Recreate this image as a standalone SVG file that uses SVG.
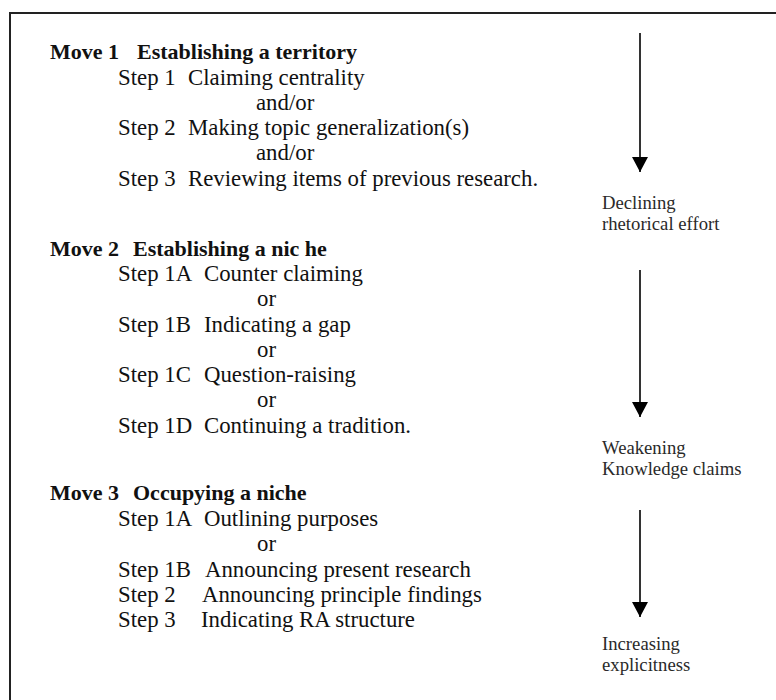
<svg xmlns="http://www.w3.org/2000/svg" width="776" height="700" viewBox="0 0 776 700">
<style>
  .mv { font-family: "Liberation Serif", "Times New Roman", serif; font-size: 22px; font-weight: bold; fill: #111; }
  .st { font-family: "Liberation Serif", "Times New Roman", serif; font-size: 22.8px; fill: #111; }
  .sd { font-family: "Liberation Serif", "Times New Roman", serif; font-size: 18.7px; fill: #2a2a2a; }
  .ar { stroke: #333; stroke-width: 2; fill: none; }
  .frame { stroke: #222; stroke-width: 2; fill: none; }
</style>
<defs>
  <marker id="head" markerUnits="userSpaceOnUse" markerWidth="15" markerHeight="16" refX="15" refY="8" orient="auto" viewBox="0 0 15 16">
    <path d="M0,0 L15,8 L0,16 Z" fill="#000"/>
  </marker>
</defs>
<rect width="776" height="700" fill="#fff"/>
<path class="frame" d="M10,700 L10,13 L776,13"/>

<g id="move1">
  <text class="mv" x="50" y="59">Move 1</text>
  <text class="mv" x="137" y="59">Establishing a territory</text>
  <text class="st" x="118" y="85">Step 1</text><text class="st" x="188" y="85">Claiming centrality</text>
  <text class="st" x="256" y="110">and/or</text>
  <text class="st" x="118" y="135">Step 2</text><text class="st" x="188" y="135">Making topic generalization(s)</text>
  <text class="st" x="256" y="160">and/or</text>
  <text class="st" x="118" y="186">Step 3</text><text class="st" x="188" y="186">Reviewing items of previous research.</text>
</g>

<g id="move2">
  <text class="mv" x="50" y="256">Move 2</text>
  <text class="mv" x="133" y="256">Establishing a nic he</text>
  <text class="st" x="118" y="281">Step 1A</text><text class="st" x="204" y="281">Counter claiming</text>
  <text class="st" x="257" y="306">or</text>
  <text class="st" x="118" y="332">Step 1B</text><text class="st" x="204" y="332">Indicating a gap</text>
  <text class="st" x="257" y="357">or</text>
  <text class="st" x="118" y="382">Step 1C</text><text class="st" x="204" y="382">Question-raising</text>
  <text class="st" x="257" y="407">or</text>
  <text class="st" x="118" y="433">Step 1D</text><text class="st" x="204" y="433">Continuing a tradition.</text>
</g>

<g id="move3">
  <text class="mv" x="50" y="500">Move 3</text>
  <text class="mv" x="133" y="500">Occupying a niche</text>
  <text class="st" x="118" y="526">Step 1A</text><text class="st" x="204" y="526">Outlining purposes</text>
  <text class="st" x="257" y="551">or</text>
  <text class="st" x="118" y="577">Step 1B</text><text class="st" x="205" y="577">Announcing present research</text>
  <text class="st" x="118" y="602">Step 2</text><text class="st" x="202" y="602">Announcing principle findings</text>
  <text class="st" x="118" y="627">Step 3</text><text class="st" x="201" y="627">Indicating RA structure</text>
</g>

<g id="connectors">
  <line class="ar" x1="640" y1="33" x2="640" y2="172" marker-end="url(#head)"/>
  <line class="ar" x1="640" y1="270" x2="640" y2="417" marker-end="url(#head)"/>
  <line class="ar" x1="640" y1="510" x2="640" y2="617" marker-end="url(#head)"/>
</g>

<g id="label1">
  <text class="sd" x="602" y="209">Declining</text>
  <text class="sd" x="602" y="230">rhetorical effort</text>
</g>
<g id="label2">
  <text class="sd" x="602" y="454">Weakening</text>
  <text class="sd" x="602" y="475">Knowledge claims</text>
</g>
<g id="label3">
  <text class="sd" x="602" y="650">Increasing</text>
  <text class="sd" x="602" y="671">explicitness</text>
</g>
</svg>
